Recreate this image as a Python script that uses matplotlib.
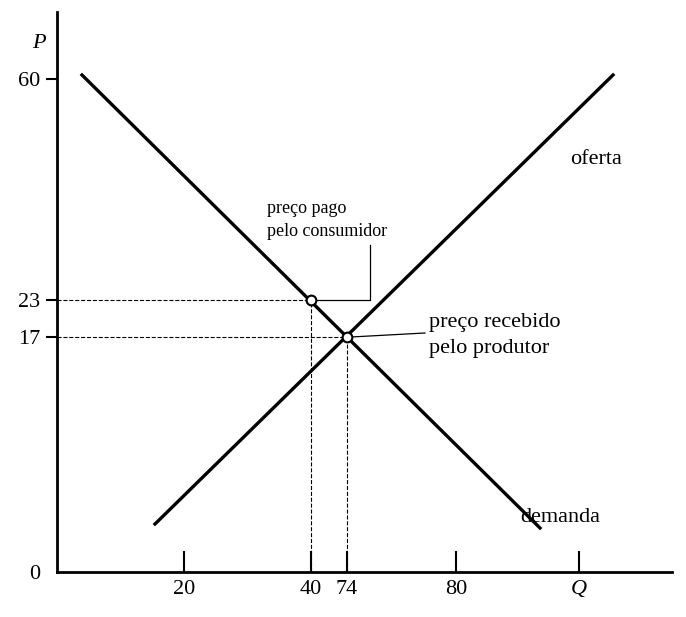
import matplotlib.pyplot as plt

plt.rcParams['font.family'] = ['Liberation Serif', 'DejaVu Serif']

# schematic coordinates (axis units, origin at the axes corner)
x_tick_pos = [127, 254, 290, 399, 522]
x_tick_labels = ['20', '40', '74', '80', 'Q']
y_tick_pos = [0, 235, 272, 493]
y_tick_labels = ['0', '17', '23', '60']

demand_x = [25, 483]
demand_y = [497, 44]
supply_x = [98, 556]
supply_y = [48, 497]

consumer_pt = (254, 272)
producer_pt = (290, 235)

fig = plt.figure(figsize=(6.86, 6.17), dpi=100)
ax = fig.add_axes([57 / 686, 45 / 617, 615 / 686, 560 / 617])
ax.set_xlim(0, 615)
ax.set_ylim(0, 560)
for s in ['top', 'right']:
    ax.spines[s].set_visible(False)
for s in ['left', 'bottom']:
    ax.spines[s].set_linewidth(2)

ax.plot(demand_x, demand_y, color='black', lw=2.4)
ax.plot(supply_x, supply_y, color='black', lw=2.4)

for px, py in [consumer_pt, producer_pt]:
    ax.plot([0, px], [py, py], ls='--', color='black', lw=0.8)
    ax.plot([px, px], [0, py], ls='--', color='black', lw=0.8)
    ax.plot(px, py, 'o', ms=7, mfc='white', mec='black', mew=1.5, zorder=5)

# callouts
ax.plot([consumer_pt[0] + 4, 313, 313], [consumer_pt[1], consumer_pt[1], 327], color='black', lw=0.9)
ax.plot([producer_pt[0] + 4, 368], [producer_pt[1], 239], color='black', lw=0.9)

ax.text(210, 352, 'preço pago\npelo consumidor', fontsize=13, va='center', ha='left', linespacing=1.4)
ax.text(372, 237, 'preço recebido\npelo produtor', fontsize=16, va='center', ha='left', linespacing=1.5)
ax.text(513, 412, 'oferta', fontsize=16, va='center')
ax.text(463, 55, 'demanda', fontsize=16, va='center')
ax.text(-25, 528, 'P', fontsize=16, style='italic', va='center')

ax.set_xticks(x_tick_pos)
ax.set_xticklabels(x_tick_labels, fontsize=16)
ax.get_xticklabels()[-1].set_style('italic')
ax.tick_params(axis='x', direction='in', length=15, width=1.5, pad=6)
ax.set_yticks(y_tick_pos)
ax.set_yticklabels(y_tick_labels, fontsize=16)
ax.tick_params(axis='y', direction='out', length=8, width=1.5, pad=4)
ax.yaxis.get_major_ticks()[0].tick1line.set_visible(False)

fig.savefig('out.png', dpi=100)
